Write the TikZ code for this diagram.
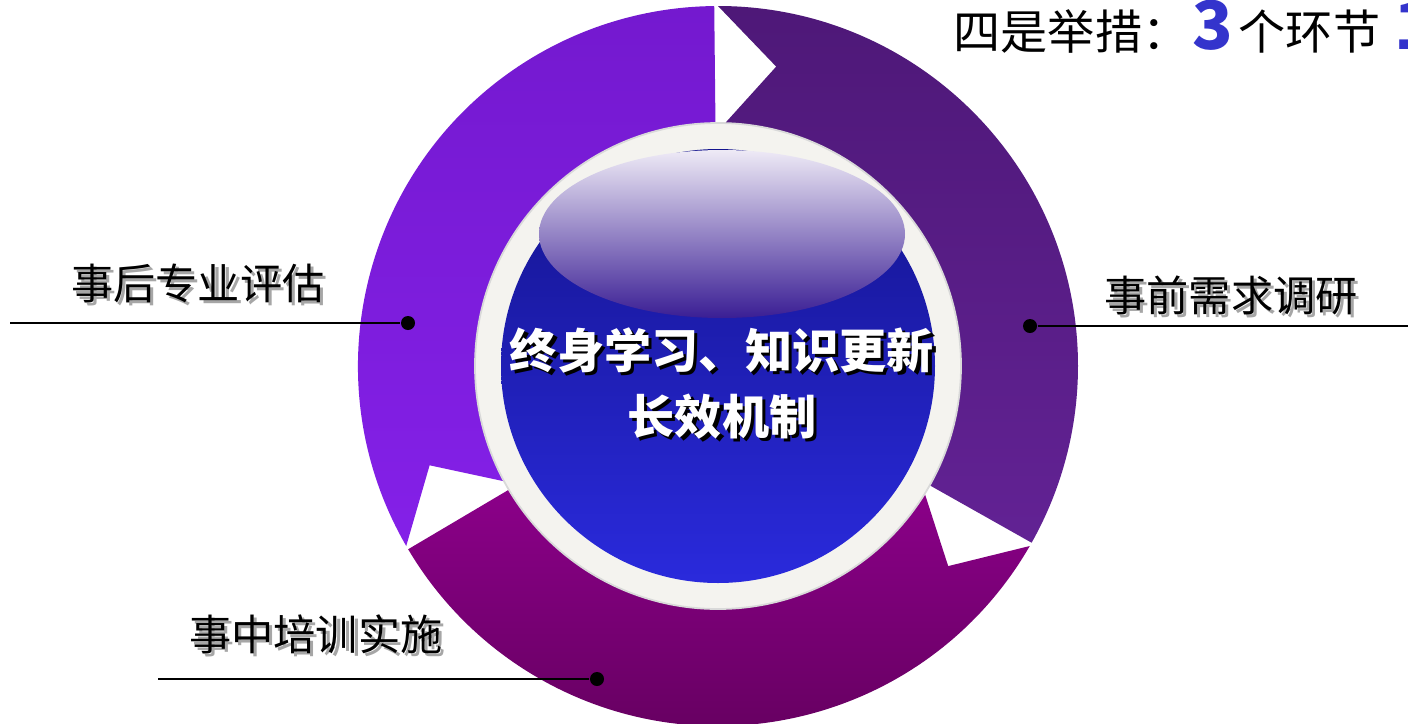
\documentclass[tikz,border=0pt]{standalone}
\usepackage{fontspec}
\newfontfamily\cjk{Noto Sans CJK SC}
\usetikzlibrary{positioning}

\definecolor{vioA}{HTML}{7419CF}
\definecolor{vioB}{HTML}{8420E8}
\definecolor{darkA}{HTML}{4E1878}
\definecolor{darkB}{HTML}{622294}
\definecolor{magA}{HTML}{8C008A}
\definecolor{magB}{HTML}{60005A}
\definecolor{ringwhite}{HTML}{F4F3EF}
\definecolor{discA}{HTML}{14148E}
\definecolor{discB}{HTML}{2A2ADC}
\definecolor{glossA}{HTML}{EEEAF6}
\definecolor{glossM}{HTML}{8C66AA}
\definecolor{glossB}{HTML}{3A1E94}
\definecolor{numblue}{HTML}{3434CC}

\newcommand{\shadowed}[2]{\makebox[0pt][l]{\hspace{0.9pt}\raisebox{-0.9pt}{\color{#1}#2}}#2}

\tikzset{
  steplabel/.style={font=\cjk\fontsize{12}{14}\selectfont, text=black, inner sep=0pt},
  dot/.style={circle, fill=black, inner sep=0pt, minimum size=0.14cm},
  leader/.style={black, line width=0.6pt}
}

\begin{document}
\begin{tikzpicture}[x=0.01cm, y=0.01cm]
\useasboundingbox (0,0) rectangle (1408,723);
\fill[white] (0,0) rectangle (1408,723);

\begin{scope}[shift={(718,357)}]
  \foreach \s/\ca/\cb in {90/darkA/darkB, -30/magA/magB, 210/vioA/vioB}
    \shade[top color=\ca, bottom color=\cb] (\s:360) arc[start angle=\s, end angle=\s-119.4, radius=360]
      -- (\s-119.4:235) arc[start angle=\s-119.4, end angle=\s, radius=235] -- (\s-11:305) -- cycle;
  \fill[ringwhite, draw=black!15, line width=0.5pt] (0,0) circle[radius=243];
  \shade[top color=discA, bottom color=discB] (0,0) circle[radius=217];
  \shade[top color=glossA, middle color=glossM, bottom color=glossB] (4,132) ellipse[x radius=183, y radius=84];
\end{scope}

\node[font=\cjk\bfseries\fontsize{13.4}{19}\selectfont, text=white, align=center] (core) at (722,338)
  {\shadowed{black}{终身学习、知识更新}\\\shadowed{black}{长效机制}};

\node[steplabel] (post) at (198,438) {\shadowed{black!35}{事后专业评估}};
\node[dot] (postdot) at (408,400) {};
\coordinate (postend) at (10,400);
\draw[leader] (postend) -- (postdot);

\node[steplabel] (pre) at (1231,426) {\shadowed{black!35}{事前需求调研}};
\node[dot] (predot) at (1030,397) {};
\coordinate (preend) at (1408,397);
\draw[leader] (predot) -- (preend);

\node[steplabel] (mid) at (316,87) {\shadowed{black!35}{事中培训实施}};
\node[dot] (middot) at (597,44) {};
\coordinate (midend) at (158,44);
\draw[leader] (midend) -- (middot);

\node[anchor=base west, inner sep=0pt, font=\cjk\fontsize{13.4}{16}\selectfont] (title) at (953,674)
  {四是举措：\hspace{1pt}{\color{numblue}\bfseries\fontsize{19}{20}\selectfont 3}\hspace{1.5pt}个环节\hspace{4pt}{\color{numblue}\bfseries\fontsize{19}{20}\selectfont 1}};
\end{tikzpicture}
\end{document}
